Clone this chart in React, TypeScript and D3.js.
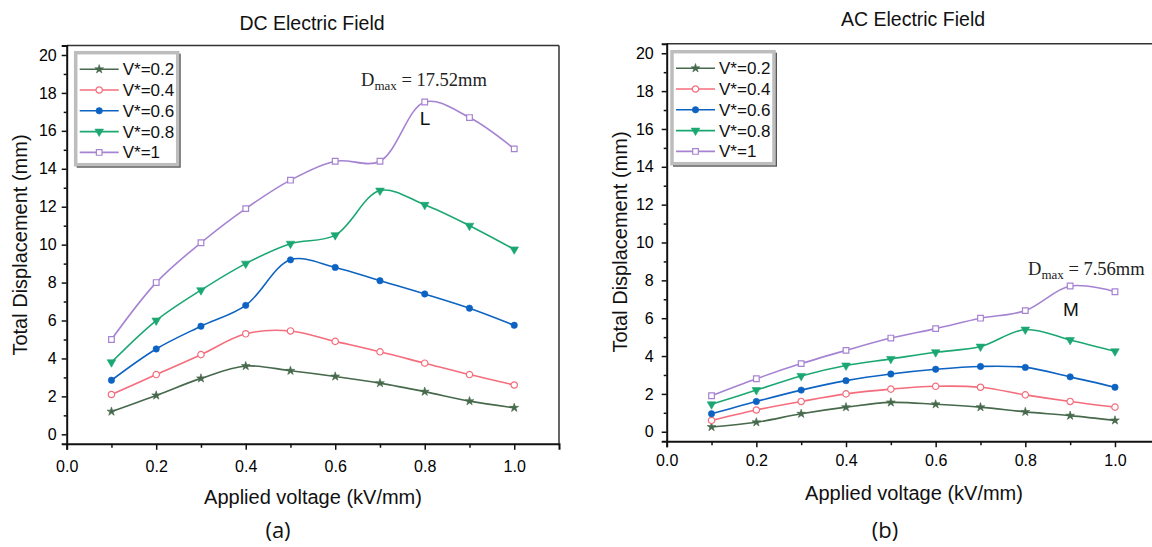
import React, { useEffect, useRef } from 'react';
import * as d3 from 'd3';

// applied voltage (kV/mm)
const voltages = [0.1, 0.2, 0.3, 0.4, 0.5, 0.6, 0.7, 0.8, 0.9, 1.0];
const seriesNames = ['V*=0.2', 'V*=0.4', 'V*=0.6', 'V*=0.8', 'V*=1'];
const seriesColors = ['#47694c', '#f46d7d', '#0d63c2', '#1ba772', '#a683d2'];

const xTickValues = [0, 0.2, 0.4, 0.6, 0.8, 1.0];
const yTickValues = [0, 2, 4, 6, 8, 10, 12, 14, 16, 18, 20];

// DC electric field, total displacement (mm)
const dcV02 = [1.2, 2.05, 2.95, 3.6, 3.35, 3.05, 2.7, 2.25, 1.75, 1.4];
const dcV04 = [2.1, 3.15, 4.2, 5.3, 5.45, 4.9, 4.35, 3.75, 3.15, 2.6];
const dcV06 = [2.85, 4.5, 5.7, 6.8, 9.2, 8.8, 8.1, 7.4, 6.65, 5.75];
const dcV08 = [3.8, 6.0, 7.6, 9.0, 10.05, 10.5, 12.85, 12.1, 11.0, 9.75];
const dcV1 = [5.0, 8.0, 10.1, 11.9, 13.4, 14.4, 14.4, 17.52, 16.7, 15.05];

// AC electric field, total displacement (mm)
const acV02 = [0.25, 0.5, 0.95, 1.3, 1.55, 1.45, 1.3, 1.05, 0.85, 0.6];
const acV04 = [0.6, 1.15, 1.6, 2.0, 2.25, 2.4, 2.35, 1.95, 1.6, 1.3];
const acV06 = [0.95, 1.6, 2.2, 2.7, 3.05, 3.3, 3.45, 3.4, 2.9, 2.35];
const acV08 = [1.45, 2.2, 2.95, 3.5, 3.85, 4.2, 4.5, 5.4, 4.85, 4.25];
const acV1 = [1.9, 2.8, 3.6, 4.3, 4.95, 5.45, 6.0, 6.4, 7.7, 7.4];

const SANS = '"Liberation Sans", Arial, sans-serif';

const markerTypes = [d3.symbolStar, d3.symbolCircle, d3.symbolCircle, d3.symbolTriangle, d3.symbolSquare];
const markerSizes = [24, 32, 32, 32, 32];
const markerOpen = [false, true, false, false, true];
const markerRotate = [0, 0, 0, 180, 0];

function drawMarker(sel, i, cx, cy) {
  sel.append('path')
    .attr('d', d3.symbol().type(markerTypes[i]).size(markerSizes[i])())
    .attr('transform', `translate(${cx},${cy}) rotate(${markerRotate[i]})`)
    .attr('fill', markerOpen[i] ? '#fff' : seriesColors[i])
    .attr('stroke', seriesColors[i])
    .attr('stroke-width', markerOpen[i] ? 1.2 : 0.6);
}

function drawPanel(g, cfg) {
  g.selectAll('*').remove();
  const x = d3.scaleLinear().domain([0, 1.1]).range([cfg.left, cfg.right]);
  const y = d3.scaleLinear().domain([-0.5, 20.5]).range([cfg.bottom, cfg.top]);

  // frame top / right
  g.append('line').attr('x1', cfg.left).attr('x2', cfg.right).attr('y1', cfg.top).attr('y2', cfg.top)
    .attr('stroke', '#333').attr('stroke-width', 1.5);
  g.append('line').attr('x1', cfg.right).attr('x2', cfg.right).attr('y1', cfg.top).attr('y2', cfg.bottom)
    .attr('stroke', '#333').attr('stroke-width', 1.5);

  // minor ticks
  g.append('g').attr('transform', `translate(0,${cfg.bottom})`)
    .call(d3.axisBottom(x).tickValues(d3.range(1, 11, 2).map(d => d / 10)).tickSize(4).tickFormat(() => ''))
    .call(a => a.select('.domain').remove());
  g.append('g').attr('transform', `translate(${cfg.left},0)`)
    .call(d3.axisLeft(y).tickValues(d3.range(1, 21, 2)).tickSize(3).tickFormat(() => ''))
    .call(a => a.select('.domain').remove());

  const xAxis = g.append('g').attr('transform', `translate(0,${cfg.bottom})`)
    .call(d3.axisBottom(x).tickValues(xTickValues).tickSize(6).tickPadding(cfg.xPad).tickFormat(d3.format('.1f')));
  const yAxis = g.append('g').attr('transform', `translate(${cfg.left},0)`)
    .call(d3.axisLeft(y).tickValues(yTickValues).tickSize(5).tickPadding(cfg.yPad));
  [xAxis, yAxis].forEach(a => {
    a.attr('font-family', SANS).attr('font-size', 16);
    a.select('.domain').attr('stroke', '#111').attr('stroke-width', 2);
  });
  g.selectAll('.tick line').attr('stroke', '#111').attr('stroke-width', 1.5);

  // curves
  const curve = d3.line().x(d => x(d[0])).y(d => y(d[1])).curve(d3.curveCatmullRom.alpha(0.5));
  cfg.series.forEach((vals, i) => {
    const pts = voltages.map((v, k) => [v, vals[k]]);
    g.append('path').attr('d', curve(pts)).attr('fill', 'none')
      .attr('stroke', seriesColors[i]).attr('stroke-width', 1.6);
    pts.forEach(p => drawMarker(g, i, x(p[0]), y(p[1])));
  });

  // legend
  const lg = g.append('g');
  lg.append('rect').attr('x', cfg.legX + 2).attr('y', cfg.legY + 2).attr('width', 102).attr('height', 112)
    .attr('fill', 'none').attr('stroke', '#555').attr('stroke-width', 2);
  lg.append('rect').attr('x', cfg.legX).attr('y', cfg.legY).attr('width', 102).attr('height', 112)
    .attr('fill', '#fff').attr('stroke', '#bdbdbd').attr('stroke-width', 3.5);
  seriesNames.forEach((name, i) => {
    const ry = cfg.legY + 16.5 + i * 20.8;
    lg.append('line').attr('x1', cfg.legX + 4).attr('x2', cfg.legX + 43).attr('y1', ry).attr('y2', ry)
      .attr('stroke', seriesColors[i]).attr('stroke-width', 1.6);
    drawMarker(lg, i, cfg.legX + 23.5, ry);
    lg.append('text').attr('x', cfg.legX + 47).attr('y', ry + 6).attr('font-family', SANS)
      .attr('font-size', 17).attr('fill', '#111').text(name);
  });

  // titles
  g.append('text').attr('x', cfg.titleX).attr('y', cfg.titleY).attr('text-anchor', 'middle')
    .attr('font-family', SANS).attr('font-size', 19.5).attr('fill', '#111').text(cfg.title);
  g.append('text').attr('x', cfg.xTitleX)
    .attr('y', cfg.xTitleY).attr('text-anchor', 'middle')
    .attr('font-family', SANS).attr('font-size', 20).attr('fill', '#111').text('Applied voltage (kV/mm)');
  g.append('text').attr('transform', `translate(${cfg.yTitleX},${cfg.yTitleY}) rotate(-90)`)
    .attr('text-anchor', 'middle').attr('font-family', SANS).attr('font-size', 20).attr('fill', '#111')
    .text('Total Displacement (mm)');
  g.append('text').attr('x', cfg.tagX).attr('y', cfg.tagY).attr('text-anchor', 'middle')
    .attr('font-family', '"Open Sans", sans-serif').attr('font-size', 22).attr('fill', '#111').text(cfg.tag);

  // annotation
  const ann = g.append('text').attr('x', cfg.annX).attr('y', cfg.annY)
    .attr('font-family', '"Liberation Serif", serif').attr('font-size', 18.5).attr('fill', '#222');
  ann.append('tspan').text('D');
  ann.append('tspan').attr('font-size', 13).attr('dy', 4).text('max');
  ann.append('tspan').attr('dy', -4).text(' = ' + cfg.annValue);
  g.append('text').attr('x', cfg.letterX).attr('y', cfg.letterY).attr('text-anchor', 'middle')
    .attr('font-family', SANS).attr('font-size', 19).attr('fill', '#111').text(cfg.letter);
}

const App = () => {
  const leftRef = useRef(null);
  const rightRef = useRef(null);

  useEffect(() => {
    drawPanel(d3.select(leftRef.current), {
      left: 66.7, right: 559, top: 45.5, bottom: 443.8,
      xPad: 11, yPad: 5,
      series: [dcV02, dcV04, dcV06, dcV08, dcV1],
      title: 'DC Electric Field', titleX: 312, titleY: 30,
      xTitleX: 313, xTitleY: 504, yTitleX: 27, yTitleY: 245,
      tag: '(a)', tagX: 278, tagY: 538,
      legX: 75.7, legY: 52.7,
      annX: 361, annY: 86, annValue: '17.52mm',
      letter: 'L', letterX: 425, letterY: 125,
    });
    drawPanel(d3.select(rightRef.current), {
      left: 666.7, right: 1159.8, top: 43.8, bottom: 441.2,
      xPad: 7, yPad: 8,
      series: [acV02, acV04, acV06, acV08, acV1],
      title: 'AC Electric Field', titleX: 913, titleY: 26,
      xTitleX: 914, xTitleY: 500, yTitleX: 627, yTitleY: 242,
      tag: '(b)', tagX: 885, tagY: 538,
      legX: 672, legY: 51.7,
      annX: 1028, annY: 275, annValue: '7.56mm',
      letter: 'M', letterX: 1071, letterY: 316,
    });
  }, []);

  return (
    <svg width={1152} height={547} style={{ position: 'absolute', left: 0, top: 0, background: '#fff' }}>
      <rect width={1152} height={547} fill="#fff" />
      <g ref={leftRef} />
      <g ref={rightRef} />
    </svg>
  );
};

export default App;
